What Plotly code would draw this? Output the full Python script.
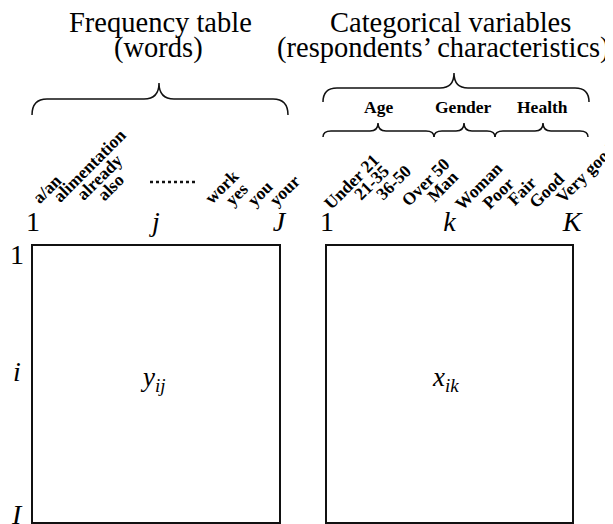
import math
import plotly.graph_objects as go

# ---------------- data (labels of the schematic) ----------------
freq_title = ["Frequency table", "(words)"]
cat_title = ["Categorical variables", "(respondents’ characteristics)"]
words_first = ["a/an", "alimentation", "already", "also"]
words_last = ["work", "yes", "you", "your"]
age_levels = ["Under 21", "21-35", "36-50", "Over 50"]
gender_levels = ["Man", "Woman"]
health_levels = ["Poor", "Fair", "Good", "Very good"]
group_names = ["Age", "Gender", "Health"]
row_ticks = ["1", "<i>i</i>", "<i>I</i>"]
word_col_ticks = ["1", "<i>j</i>", "<i>J</i>"]
cat_col_ticks = ["1", "<i>k</i>", "<i>K</i>"]
cell_labels = ["<i>y</i><sub><i>ij</i></sub>", "<i>x</i><sub><i>ik</i></sub>"]

# ---------------- layout constants (page pixels) ----------------
W, H = 613, 524
OFF = 8                     # page margin around the plot div
SERIF = "Liberation Serif"
BOX_LEFT = (33, 279)
BOX_RIGHT = (327, 572)
BOX_Y = (246, 522)
ROT_SIZE = 17.5

# baseline start of each rotated label
word_first_pos = [(35, 203), (56, 201), (79, 199), (100, 200)]
word_last_pos = [(207, 203), (228, 205), (250, 205), (272, 205)]
cat_pos = [(326, 209), (357, 199), (379, 199), (404, 206), (430, 201),
           (457, 209), (485, 208), (510, 205), (532, 207), (558, 203)]
row_label_y = [254, 371, 514]
group_x = [378, 463, 542]

# Times-Bold advance widths (1/1000 em), used to centre rotated labels
BOLD_W = dict(zip("abcdefghijklmnopqrstuvwxyz",
                  [500, 556, 444, 556, 444, 333, 500, 556, 278, 333, 556, 278, 833,
                   556, 500, 556, 556, 444, 389, 333, 556, 500, 722, 500, 500, 444]))
BOLD_W.update({"U": 722, "O": 778, "M": 944, "W": 1000, "P": 611, "F": 611,
               "G": 778, "V": 722, " ": 250, "/": 278, "-": 333})
BOLD_W.update({d: 500 for d in "0123456789"})

def text_len(s, size):
    return sum(BOLD_W.get(c, 500) for c in s) / 1000 * size

fig = go.Figure()

def px_x(x):
    return (x - OFF) / W

def px_y(y):
    return 1 - (y - OFF) / H

# two matrices drawn by their own axes (box frame + column index ticks)
for k, (box, ticks, cell) in enumerate([(BOX_LEFT, word_col_ticks, cell_labels[0]),
                                        (BOX_RIGHT, cat_col_ticks, cell_labels[1])]):
    xa = "x" if k == 0 else "x2"
    ya = "y" if k == 0 else "y2"
    fig.add_trace(go.Scatter(x=[None], y=[None], xaxis=xa, yaxis=ya,
                             showlegend=False, hoverinfo="skip"))
    axis_x = dict(domain=[px_x(box[0]), px_x(box[1])], range=[0, len(ticks) - 1],
                  side="top", tickvals=list(range(len(ticks))), ticktext=ticks,
                  tickfont=dict(family=SERIF, size=28, color="black"),
                  showline=True, mirror=True, linecolor="#111", linewidth=2,
                  showgrid=False, zeroline=False, ticks="", fixedrange=True,
                  anchor=ya, ticklabelstandoff=2, automargin=False)
    axis_y = dict(domain=[px_y(BOX_Y[1]), px_y(BOX_Y[0])], range=[1, 0],
                  showticklabels=False, showline=True, mirror=True, linecolor="#111",
                  linewidth=2, showgrid=False, zeroline=False, ticks="",
                  fixedrange=True, anchor=xa, automargin=False)
    if k == 0:
        fig.update_layout(xaxis=axis_x, yaxis=axis_y)
    else:
        fig.update_layout(xaxis2=axis_x, yaxis2=axis_y)
    fig.add_annotation(x=(len(ticks) - 1) / 2 - 0.03, y=0.482, xref=xa, yref=ya,
                       text=cell, showarrow=False,
                       font=dict(family=SERIF, size=27, color="black"),
                       xanchor="center", yanchor="middle")

# overlay axes in page-pixel units for annotations / braces
fig.add_trace(go.Scatter(x=[None], y=[None], xaxis="x3", yaxis="y3",
                         showlegend=False, hoverinfo="skip"))
fig.update_layout(
    xaxis3=dict(domain=[0, 1], range=[OFF, W + OFF], visible=False, fixedrange=True,
                anchor="y3", automargin=False),
    yaxis3=dict(domain=[0, 1], range=[H + OFF, OFF], visible=False, fixedrange=True,
                anchor="x3", automargin=False),
)

def ann(x, y, text, size, bold=False, xanchor="center", yanchor="middle", angle=0):
    fig.add_annotation(x=x, y=y, xref="x3", yref="y3", text=text, showarrow=False,
                       textangle=angle, xanchor=xanchor, yanchor=yanchor,
                       font=dict(family=SERIF, size=size, color="black",
                                 weight="bold" if bold else "normal"))

# titles
ann(160, 22.5, freq_title[0], 28.5)
ann(158, 47.5, freq_title[1], 28.5)
ann(450, 22.5, cat_title[0], 28.5)
ann(443.5, 47.5, cat_title[1], 28.5)

# row index labels
for lab, y in zip(row_ticks, row_label_y):
    ann(17, y, lab, 28)

# group labels
for g, x in zip(group_names, group_x):
    ann(x, 107, g, 17.5, bold=True)

# rotated word / category labels (centred from their baseline start)
c45 = math.cos(math.radians(45))
for lab, (sx, sy) in zip(words_first + words_last + age_levels + gender_levels + health_levels,
                         word_first_pos + word_last_pos + cat_pos):
    half = text_len(lab, ROT_SIZE) / 2
    up = 0.2 * ROT_SIZE
    cx = sx + half * c45 - up * c45 + 3
    cy = sy - half * c45 - up * c45
    ann(cx, cy, lab, ROT_SIZE, bold=True, angle=-45)

# braces
def brace(x0, x1, xm, y_end, y_mid, y_tip, r, w=1.5):
    path = (f"M {x0},{y_end} Q {x0},{y_mid} {x0 + r},{y_mid} L {xm - r},{y_mid} "
            f"Q {xm},{y_mid} {xm},{y_tip} Q {xm},{y_mid} {xm + r},{y_mid} "
            f"L {x1 - r},{y_mid} Q {x1},{y_mid} {x1},{y_end}")
    fig.add_shape(type="path", path=path, xref="x3", yref="y3",
                  line=dict(color="#111", width=w))

brace(32, 288, 159, 115, 99, 83, 15)
brace(323, 589, 454, 102, 88, 73, 14)
brace(323, 434, 378, 137, 131, 123, 8)
brace(434, 495, 464, 137, 131, 123, 8)
brace(495, 588, 543, 137, 131, 123, 8)

# dotted ellipsis between first and last words
fig.add_shape(type="line", x0=150, x1=195, y0=182, y1=182, xref="x3", yref="y3",
              line=dict(color="#111", width=2.5, dash="dot"))

fig.update_layout(width=W, height=H, margin=dict(l=0, r=0, t=0, b=0),
                  paper_bgcolor="white", plot_bgcolor="rgba(0,0,0,0)",
                  showlegend=False)

fig.write_html("out.html")
